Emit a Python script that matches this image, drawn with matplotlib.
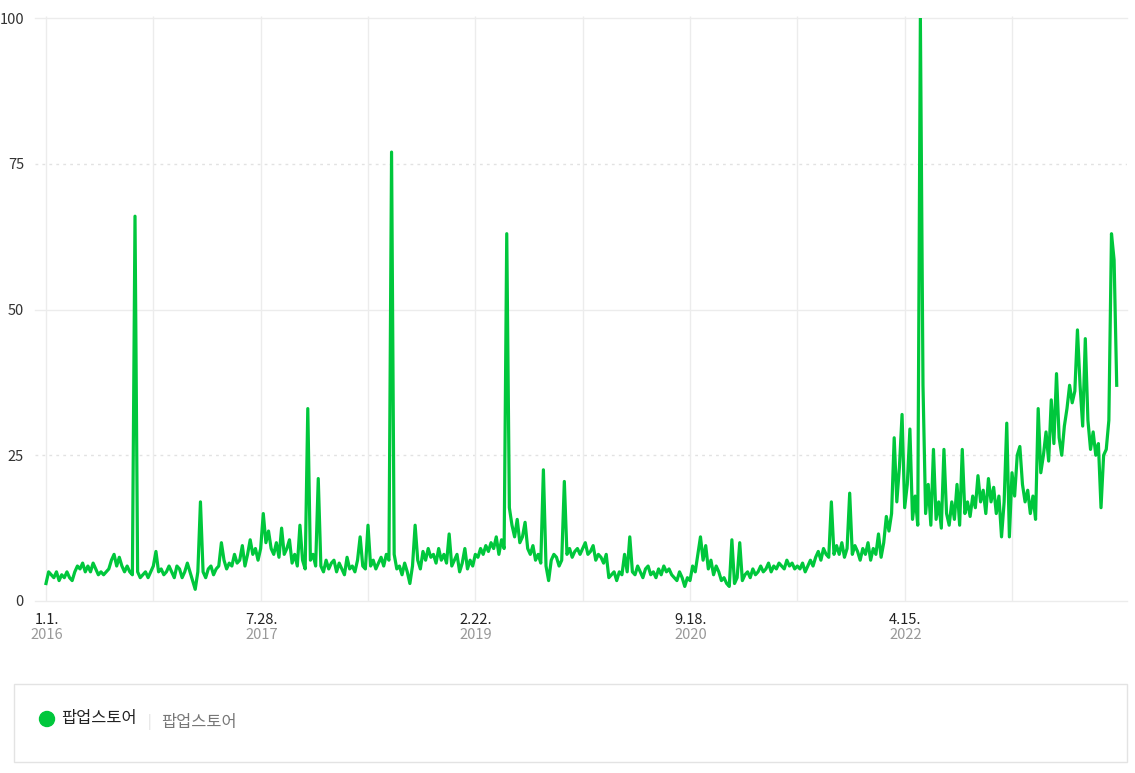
import numpy as np
import pandas as pd
import matplotlib
matplotlib.use('Agg')
from matplotlib import pyplot as plt
from matplotlib.patches import Rectangle, Circle

plt.rcParams['font.family'] = ['Noto Sans CJK KR', 'DejaVu Sans']

# weekly search index, one list per grid interval (41 weeks)
seg_1 = [3, 5, 4.5, 4, 5, 3.5, 4.5, 4, 5, 4, 3.5,
         5, 6, 5.5, 6.5, 5, 6, 5, 6.5, 5.5, 4.5,
         5, 4.5, 5, 5.5, 7, 8, 6, 7.5, 6, 5, 6, 5, 4.5,
         66, 5, 4, 4.5, 5, 4, 5]
seg_2 = [6, 8.5, 5, 5.5, 4.5, 5, 6, 5, 4, 6,
         5.5, 4, 5, 6.5, 5, 3.5, 2, 5, 17, 5,
         4, 5.5, 6, 4.5, 5.5, 6, 10, 7, 5.5, 6.5,
         6, 8, 6.5, 7, 9.5, 6, 8, 10.5, 8, 9,
         7]
seg_3 = [9, 15, 10, 12, 9, 8, 10, 7.5, 12.5, 8,
         9, 10.5, 6.5, 8, 6, 13, 7, 5.5, 33, 7,
         8, 6, 21, 6, 5, 7, 5.5, 6.5, 7, 5,
         6.5, 5.5, 4.5, 7.5, 5.5, 6, 5, 7, 11, 6,
         5.5]
seg_4 = [13, 6, 7, 5.5, 6.5, 7.5, 6, 8, 7, 77,
         8, 5.5, 6, 4.5, 6.5, 5, 3, 6, 13, 7,
         5.5, 8.5, 7, 9, 7.5, 8, 6.5, 9, 7, 8,
         6.5, 11.5, 6, 7, 8, 5, 6.5, 9, 5.5, 7,
         6]
seg_5 = [8, 7.5, 9, 8, 9.5, 8.5, 10, 9, 11, 8,
         10.5, 9, 63, 16, 13, 11, 14, 10, 11, 13.5,
         9, 8, 9.5, 7, 8, 6.5, 22.5, 6, 3.5, 7,
         8, 7.5, 6, 7, 20.5, 8, 9, 7.5, 8.5, 9,
         8]
seg_6 = [9, 10, 8, 8.5, 9.5, 7, 8, 7.5, 6.5, 8,
         4, 4.5, 5, 3.5, 5, 4.5, 8, 5, 11, 5,
         4.5, 6, 5, 4, 5.5, 6, 4.5, 5, 4, 5.5,
         4.5, 6, 5, 5.5, 4.5, 4, 3.5, 5, 4, 2.5,
         4]
seg_7 = [3.5, 6, 5, 8, 11, 7, 9.5, 5.5, 7, 4.5,
         6, 5, 3.5, 4, 3, 2.5, 10.5, 3, 4, 10,
         3.5, 4.5, 5, 4, 5.5, 4.5, 5, 6, 5, 5.5,
         6.5, 5, 6, 5.5, 6.5, 6, 5.5, 7, 6, 6.5,
         5.5]
seg_8 = [6, 5.5, 6.5, 5, 6, 7, 6, 7.5, 8.5, 7,
         9, 8, 7.5, 17, 8, 9.5, 8, 10, 7.5, 9,
         18.5, 8, 9.5, 8.5, 7, 9, 8, 10, 7, 9,
         8, 11.5, 7.5, 10, 14.5, 12, 15, 28, 17, 23,
         32]
seg_9 = [16, 20, 29.5, 14, 18, 13, 100, 37, 15, 20,
         13, 26, 14, 17, 12.5, 26, 15, 13, 17, 14,
         20, 13, 26, 15, 17, 14.5, 18, 16, 21.5, 17,
         19, 15, 21, 17, 19.5, 15, 18, 11, 17, 30.5,
         11]
seg_10 = [22, 18, 25, 26.5, 20, 17, 19, 15, 18, 14,
          33, 22, 25, 29, 24, 34.5, 27, 39, 28, 25,
          30, 33, 37, 34, 36, 46.5, 37, 30, 45, 31,
          26, 29, 25, 27, 16, 25, 26, 31, 63, 58.5,
          37]

values = seg_1 + seg_2 + seg_3 + seg_4 + seg_5 + seg_6 + seg_7 + seg_8 + seg_9 + seg_10
start = pd.Timestamp('2016-01-01')
dates = pd.date_range(start, periods=len(values), freq='7D')

grid_dates = [start + pd.Timedelta(days=287 * k) for k in range(10)]
label_days = ['1.1.', '7.28.', '2.22.', '9.18.', '4.15.']
label_years = ['2016', '2017', '2019', '2020', '2022']
y_ticks = [0, 25, 50, 75, 100]

green = '#00c73c'

fig = plt.figure(figsize=(11.35, 7.73), dpi=100)
W, H = 1135, 773
ax = fig.add_axes([35 / W, 1 - 601 / H, (1127 - 35) / W, (601 - 18) / H])

ax.set_xlim(start - pd.Timedelta(days=29.4), start + pd.Timedelta(days=2890.5))
ax.set_ylim(0, 100)
for s in ax.spines.values():
    s.set_visible(False)

# horizontal grid: solid on 0/50/100, dotted on 25/75
for v in y_ticks:
    if v in (25, 75):
        ax.axhline(v, color='#e2e2e2', lw=1, ls=(0, (2, 3)), zorder=1)
    else:
        ax.axhline(v, color='#ececec', lw=1, zorder=1, clip_on=False)
ax.vlines(grid_dates, 0, 100.4, color='#ececec', lw=1, zorder=1, clip_on=False)

ax.plot(dates, values, color=green, lw=2.3, zorder=3)

ax.set_yticks(y_ticks)
ax.set_yticklabels([str(v) for v in y_ticks], fontsize=10.5, color='#333333')
ax.tick_params(axis='y', length=0, pad=8)
ax.set_xticks([])

for i, (d, y) in enumerate(zip(label_days, label_years)):
    gd = grid_dates[2 * i]
    ax.annotate(d, xy=(gd, 0), xycoords=('data', 'axes fraction'),
                xytext=(0.5, -13.5), textcoords='offset points',
                ha='center', va='center', fontsize=10.5, color='#222222')
    ax.annotate(y, xy=(gd, 0), xycoords=('data', 'axes fraction'),
                xytext=(0.5, -24.5), textcoords='offset points',
                ha='center', va='center', fontsize=10.5, color='#999999')

# legend box
fig.add_artist(Rectangle((14 / W, 1 - 762 / H), 1113 / W, 78 / H,
                         transform=fig.transFigure, fill=False,
                         edgecolor='#e3e3e3', lw=1))
fig.add_artist(Circle((0.47, (H - 719) / 100), 0.075,
                      transform=fig.dpi_scale_trans, color=green))
fig.text(61 / W, 1 - 719 / H, '팝업스토어', fontsize=11.8, color='#222222',
         ha='left', va='center')
fig.text(149 / W, 1 - 722 / H, '|', fontsize=10, color='#dddddd',
         ha='center', va='center')
fig.text(161 / W, 1 - 722 / H, '팝업스토어', fontsize=11.8, color='#777777',
         ha='left', va='center')

fig.savefig('out.png', dpi=100)
